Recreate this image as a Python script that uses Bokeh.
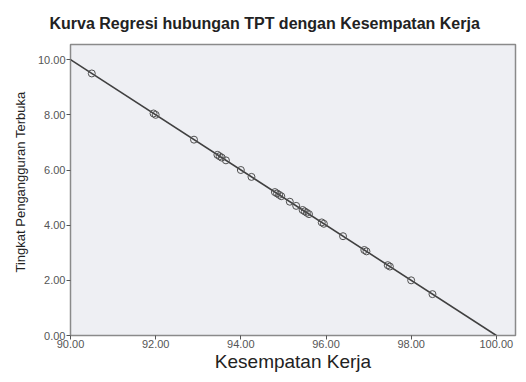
import numpy as np
from bokeh.plotting import figure
from bokeh.models import ColumnDataSource, NumeralTickFormatter, FixedTicker, Range1d, Title
from bokeh.embed import file_html
from bokeh.resources import INLINE

title_text = "Kurva Regresi hubungan TPT dengan Kesempatan Kerja"
x_label = "Kesempatan Kerja"
y_label = "Tingkat Pengangguran Terbuka"

kesempatan_kerja = [90.50, 91.95, 92.00, 92.90, 93.45, 93.50, 93.55, 93.65, 94.00, 94.25,
                    94.80, 94.85, 94.90, 94.95, 95.15, 95.30, 95.45, 95.50, 95.55, 95.60,
                    95.90, 95.95, 96.40, 96.90, 96.95, 97.45, 97.50, 98.00, 98.50]
tpt = [9.50, 8.05, 8.00, 7.10, 6.55, 6.50, 6.45, 6.35, 6.00, 5.75,
       5.20, 5.15, 5.10, 5.05, 4.85, 4.70, 4.55, 4.50, 4.45, 4.40,
       4.10, 4.05, 3.60, 3.10, 3.05, 2.55, 2.50, 2.00, 1.50]

x_ticks = [90, 92, 94, 96, 98, 100]
y_ticks = [0, 2, 4, 6, 8, 10]
x_range = (90, 100.45)
y_range = (0, 10.55)

slope, intercept = np.polyfit(kesempatan_kerja, tpt, 1)
fit_x = [90, 100]
fit_y = [slope * v + intercept for v in fit_x]

p = figure(width=518, height=374, output_backend="svg", toolbar_location=None,
           x_range=Range1d(*x_range), y_range=Range1d(*y_range),
           min_border_left=70, min_border_right=3, min_border_top=44, min_border_bottom=39)

p.title.text = title_text
p.title.align = "left"
p.title.text_font = "Liberation Sans"
p.title.text_font_size = "16px"
p.title.text_font_style = "bold"
p.title.text_color = "#222222"
p.title.offset = -21
p.title.standoff = 25

p.background_fill_color = "#eeeff3"
p.border_fill_color = "white"
p.outline_line_color = "#8a8a8a"
p.outline_line_width = 1.5
p.xgrid.visible = False
p.ygrid.visible = False

p.line(fit_x, fit_y, line_color="#404040", line_width=1.6)
src = ColumnDataSource(dict(x=kesempatan_kerja, y=tpt))
p.scatter("x", "y", source=src, size=7, fill_color=None, line_color="#505050", line_width=1)

for ax, ticks in ((p.xaxis, x_ticks), (p.yaxis, y_ticks)):
    ax.ticker = FixedTicker(ticks=ticks)
    ax.formatter = NumeralTickFormatter(format="0.00")
    ax.minor_tick_line_color = None
    ax.major_tick_in = 0
    ax.major_tick_out = 4
    ax.major_tick_line_color = "#555555"
    ax.axis_line_color = "#8a8a8a"
    ax.major_label_text_font = "Liberation Sans"
    ax.major_label_text_font_size = "11px"
    ax.major_label_text_color = "#555555"
    ax.axis_label_text_font = "Liberation Sans"
    ax.axis_label_text_font_style = "normal"
    ax.axis_label_text_color = "#222222"

p.xaxis.axis_label = x_label
p.xaxis.axis_label_text_font_size = "19px"
p.xaxis.major_label_standoff = 0
p.xaxis.axis_label_standoff = 0
p.yaxis.major_label_standoff = 1

y_title = Title(text=y_label, align="left", offset=63, standoff=14,
                text_font="Liberation Sans", text_font_size="13px",
                text_font_style="normal", text_color="#222222")
p.add_layout(y_title, "left")

open("out.html", "w").write(file_html(p, INLINE))
